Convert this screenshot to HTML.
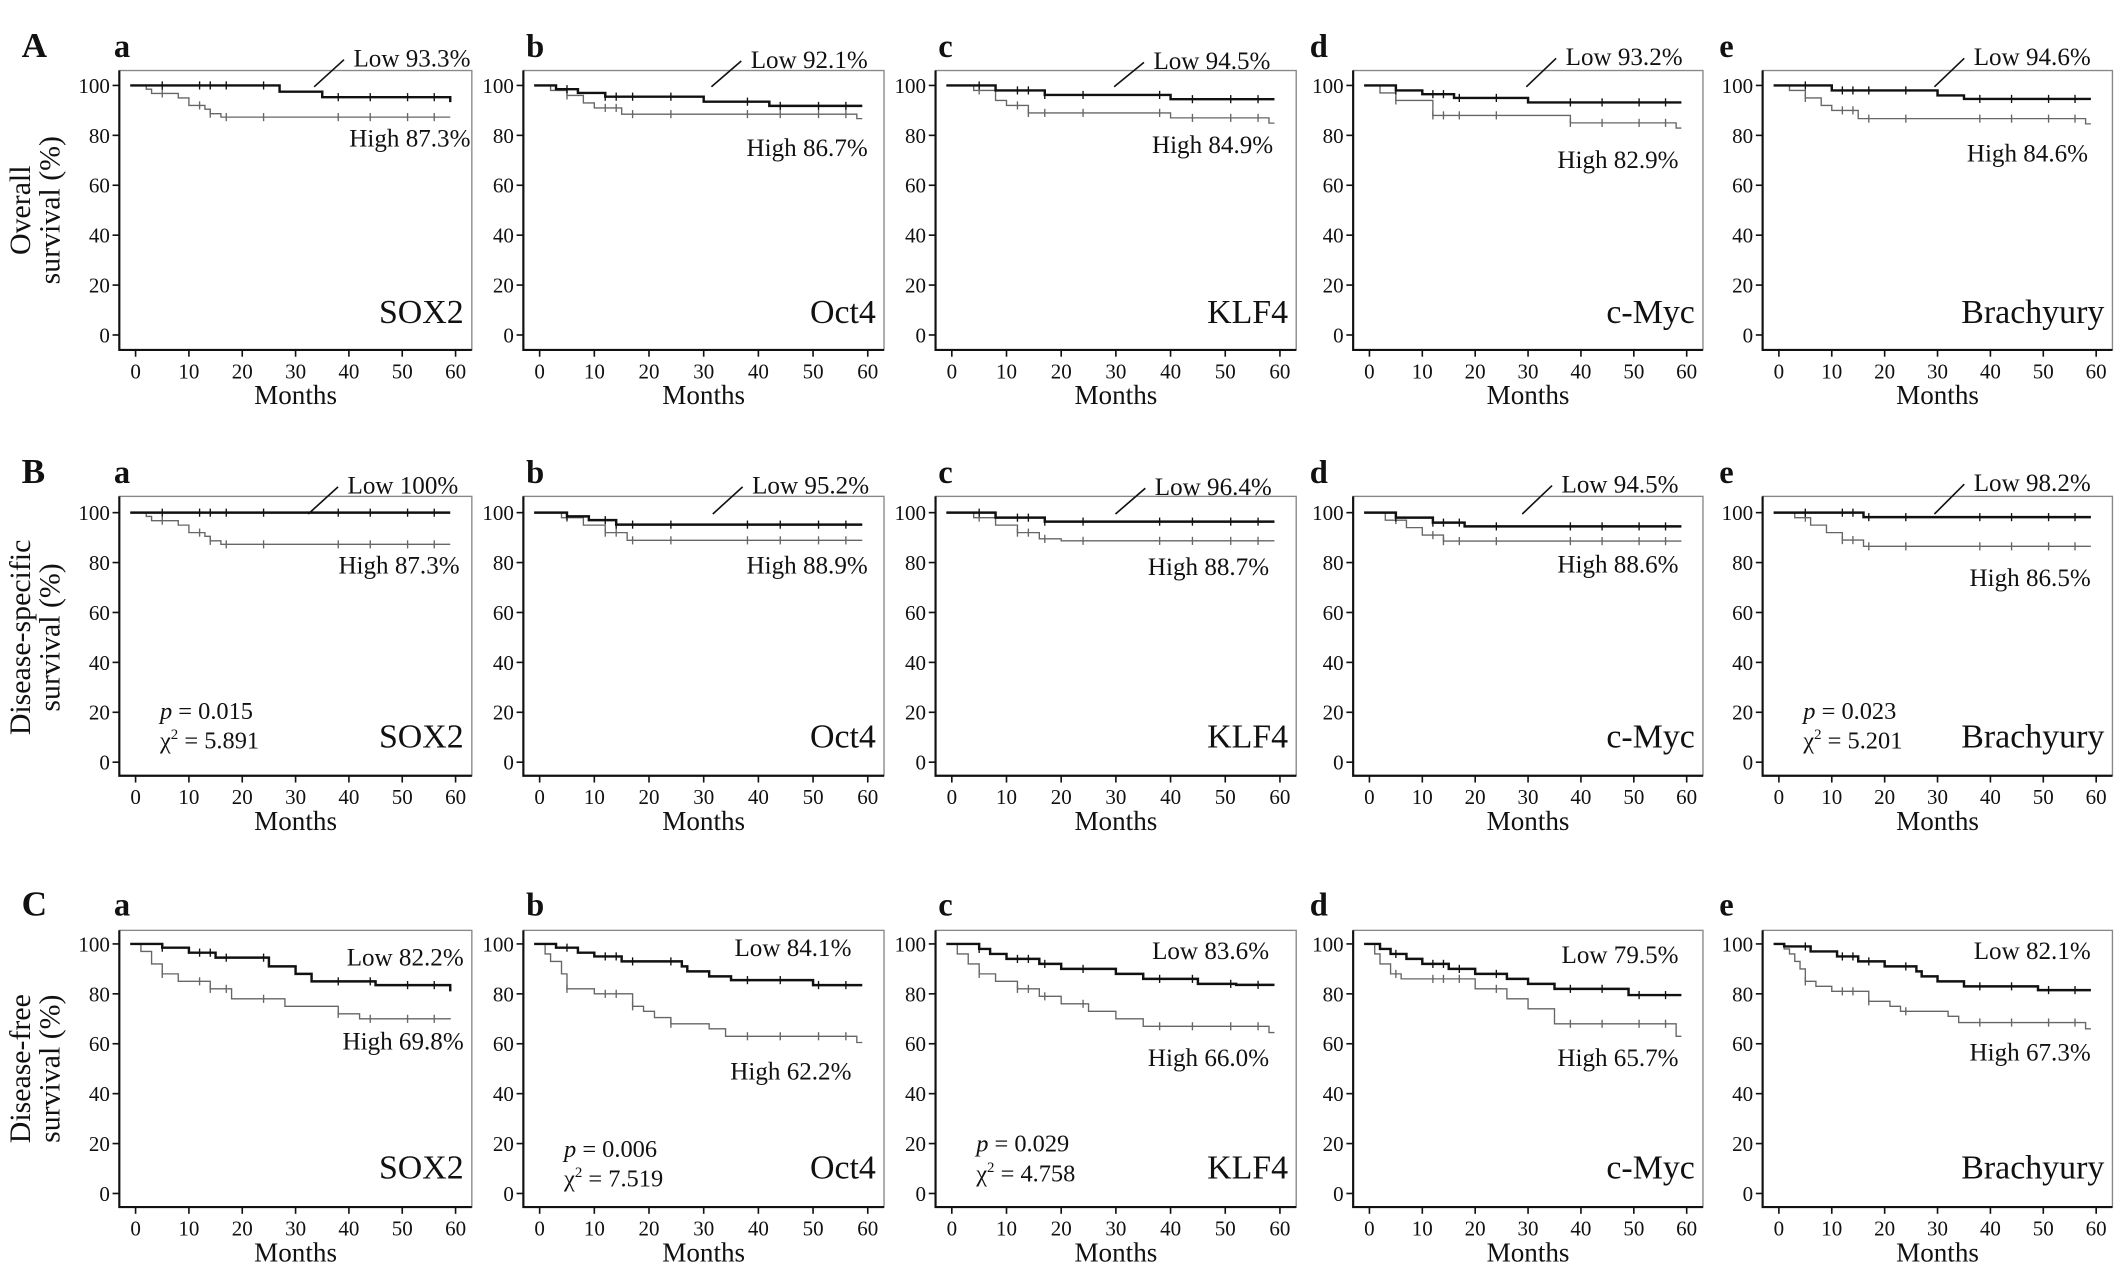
<!DOCTYPE html>
<html><head><meta charset="utf-8"><style>
html,body{margin:0;padding:0;background:#fff;}
svg{display:block;font-family:"Liberation Serif",serif;}
</style></head><body>
<svg id="fig" width="2126" height="1264" viewBox="0 0 1568 932" preserveAspectRatio="none" xmlns="http://www.w3.org/2000/svg"></svg>
<script>
const genes = ["SOX2","Oct4","KLF4","c-Myc","Brachyury"];
const rowLetters = ["A","B","C"];
const panelLetters = ["a","b","c","d","e"];
const rowYLabels = [["Overall","survival (%)"],["Disease-specific","survival (%)"],["Disease-free","survival (%)"]];
const yTicks = [0,20,40,60,80,100];
const xTicks = [0,10,20,30,40,50,60];
const lowSteps = [
 [[[27,97.5],[35,95.3],[59,93.3]], [[3,98.5],[7,97],[12,95.5],[30,93.5],[42,91.8]], [[8,98],[17,96.2],[40,94.5]], [[5,98],[10,96.5],[16,95],[30,93.2]], [[10,98],[30,96],[35,94.6]]],
 [[], [[5,98.5],[9,97],[14,95.2]], [[8,98],[17,96.4]], [[5,98],[12,96],[18,94.5]], [[16,98.2]]],
 [[[5,98.5],[10,96.5],[15,94.5],[25,91],[30,88],[33,85],[45,83.5],[59,81]],
  [[3,98.5],[7,96.5],[10,95],[15,93],[26,91],[27,89],[31,87],[35,85.5],[50,83.5]],
  [[5,98],[7,96],[10,94],[16,92],[20,90],[30,88],[35,86],[45,84],[52,83.6]],
  [[2,98],[4,96],[7,94],[10,92],[15,90],[20,88],[26,86],[30,84],[35,82],[49,79.5]],
  [[1,99],[6,97],[11,95],[15,93],[20,91],[26,89],[27,87],[30,85],[35,83],[49,81.5]]]
];
const highSteps = [
 [[[2,98.5],[3,96.8],[8,95],[10,92],[13,90.5],[14,88.7],[16,87.3]], [[2,98],[5,96],[8,93],[10,91],[15,88.5],[58,86.7]], [[4,98],[8,94],[10,92],[14,89],[40,87],[58,84.9]], [[2,97],[5,94],[12,88],[38,85],[58,82.9]], [[2,98],[5,95],[8,92],[10,90],[15,86.7],[58,84.6]]],
 [[[2,98.5],[3,96.8],[8,95],[10,92],[13,90.5],[14,88.7],[16,87.3]], [[4,98],[8,95],[12,92],[16,88.9]], [[4,98],[8,95],[12,92],[16,89.5],[20,88.7]], [[3,97],[7,94],[10,91],[14,88.6]], [[3,98],[6,95],[9,92],[12,89],[16,86.5]]],
 [[[1,97],[3,92],[5,88],[8,85],[14,82],[18,78],[28,75],[38,72],[42,70],[59,69.8]],
  [[1,96],[2,93],[4,88],[5,82],[10,80],[17,75],[19,73],[21,70.5],[24,68],[31,66],[34,63],[58,60.5]],
  [[1,96],[3,92],[5,88],[8,85],[12,82],[16,79],[20,76],[25,73],[30,70],[35,67],[58,64.5]],
  [[1,96],[2,92],[4,88],[6,86],[20,82],[26,78],[30,74],[35,68],[58,63]],
  [[1,98],[2,96],[3,93],[4,90],[5,85],[7,83],[10,81],[17,77],[21,75],[23,73],[32,71],[34,68.5],[58,66]]]
];
const censorTimes = [5,12,14,17,24,38,44,51,56];
const lowLabels = [["Low 93.3%","Low 92.1%","Low 94.5%","Low 93.2%","Low 94.6%"],["Low 100%","Low 95.2%","Low 96.4%","Low 94.5%","Low  98.2%"],["Low 82.2%","Low 84.1%","Low 83.6%","Low 79.5%","Low 82.1%"]];
const highLabels = [["High 87.3%","High 86.7%","High 84.9%","High 82.9%","High 84.6%"],["High 87.3%","High 88.9%","High 88.7%","High 88.6%","High 86.5%"],["High 69.8%","High 62.2%","High 66.0%","High 65.7%","High 67.3%"]];
const lowLabelY = [[49,50,51,48,48],[364,364,365,363,362],[712,705,707,710,707]];
const highLabelY = [[108,115,113,124,119],[423,423,424,422,432],[774,796,786,786,782]];

const svg = document.getElementById('fig');
const NS = "http://www.w3.org/2000/svg";
function mk(tag, attrs, parent){const e=document.createElementNS(NS,tag);for(const k in attrs)e.setAttribute(k,attrs[k]);(parent||svg).appendChild(e);return e;}
function txt(s,x,y,size,anchor,parent,extra){const t=mk('text',Object.assign({x:x,y:y,'font-size':size,'text-anchor':anchor||'start',fill:'#111'},extra||{}),parent);t.textContent=s;return t;}

const boxX = [[88,348],[386,652],[690,956],[998,1256],[1300,1558]];
const rowBox = [[52,258],[366,572],[686,890]];
const rowY = [[63,247],[378,562],[696,880]];
const letterY = [42,356,675];
const letterX = [84,388,692,966,1268];
const lowRight = [[347,640,937,1241,1542],[338,641,938,1238,1542],[342,628,936,1238,1542]];
const highRight = [[347,640,939,1238,1540],[339,640,936,1238,1542],[342,628,936,1238,1542]];

for(let r=0;r<3;r++){
  const rl=txt(rowLetters[r],16,letterY[r],26,'start',null,{'font-weight':'bold'});
  
  
  const cy=(rowY[r][0]+rowY[r][1])/2;
  const yl=mk('g',{transform:`translate(22,${cy}) rotate(-90)`});
  
  
  txt(rowYLabels[r][0],0,0,22,'middle',yl);
  txt(rowYLabels[r][1],0,22,22,'middle',yl);
  for(let p=0;p<5;p++){
    const g=mk('g',{});
    
    
    const [L,R]=boxX[p]; const [T,B]=rowBox[r];
    const x0=L+12, x1=R-12;
    const X=t=>x0+(t/60)*(x1-x0);
    const Y=v=>rowY[r][1]-(v/100)*(rowY[r][1]-rowY[r][0]);
    const pl=txt(panelLetters[p],letterX[p],letterY[r],24,'start',g,{'font-weight':'bold'});
    
    
    mk('rect',{x:L,y:T,width:R-L,height:B-T,fill:'none',stroke:'#888','stroke-width':1},g);
    mk('path',{d:`M${L},${T}V${B}H${R}`,fill:'none',stroke:'#111','stroke-width':1.6},g);
    yTicks.forEach(v=>{mk('line',{x1:L-5,x2:L,y1:Y(v),y2:Y(v),stroke:'#111','stroke-width':1.2},g);txt(String(v),L-7,Y(v)+5.5,15.5,'end',g);});
    xTicks.forEach(t=>{mk('line',{x1:X(t),x2:X(t),y1:B,y2:B+5,stroke:'#111','stroke-width':1.2},g);txt(String(t),X(t),B+21,15.5,'middle',g);});
    const ml=txt("Months",(x0+x1)/2,B+40,20,'middle',g);
    
    
    const gl=txt(genes[p],R-6,(r==0?238:r==1?551:869),25,'end',g);
    
    
    [[highSteps[r][p],'#666',1,'high'],[lowSteps[r][p],'#111',1.8,'low']].forEach(([steps,col,w,nm])=>{
      let d=`M${X(-1)},${Y(100)}`;
      steps.forEach(([t,s])=>{d+=`H${X(t)}V${Y(s)}`;});
      d+=`H${X(59)}`;
      const path=mk('path',{d:d,fill:'none',stroke:col,'stroke-width':w},g);
      
      
      censorTimes.forEach(ct=>{
        let v=100; steps.forEach(([t,s])=>{if(t<=ct)v=s;});
        mk('line',{x1:X(ct),x2:X(ct),y1:Y(v)-3,y2:Y(v)+3,stroke:col,'stroke-width':1},g);
      });
    });
    const lo=txt(lowLabels[r][p],lowRight[r][p],lowLabelY[r][p],18.5,'end',g,{'xml:space':'preserve'});
    
    
    const hi=txt(highLabels[r][p],highRight[r][p],highLabelY[r][p],18.5,'end',g);
    
    
    if(r<2){
      const lw=lo.getComputedTextLength();
      const sx=lowRight[r][p]-lw-7;
      mk('line',{x1:sx-22,y1:Y(100)+1,x2:sx,y2:lowLabelY[r][p]-5,stroke:'#111','stroke-width':1.2},g);
    }
    let st=null;
    if(r==1&&(p==0||p==4)) st=p==0?["0.015","5.891"]:["0.023","5.201"];
    if(r==2&&p==1) st=["0.006","7.519"];
    if(r==2&&p==2) st=["0.029","4.758"];
    if(st){
      const sxp=L+30;
      const by=r==1?530:(p==1?853:849);
      const pt=mk('text',{x:sxp,y:by,'font-size':18,fill:'#111'},g);
      
      
      pt.innerHTML=`<tspan font-style="italic">p</tspan> = ${st[0]}`;
      const ct=mk('text',{x:sxp,y:by+22,'font-size':18,fill:'#111'},g);
      
      
      ct.innerHTML=`χ<tspan font-size="11" dy="-7">2</tspan><tspan dy="7"> = ${st[1]}</tspan>`;
    }
  }
}
</script>
</body></html>
